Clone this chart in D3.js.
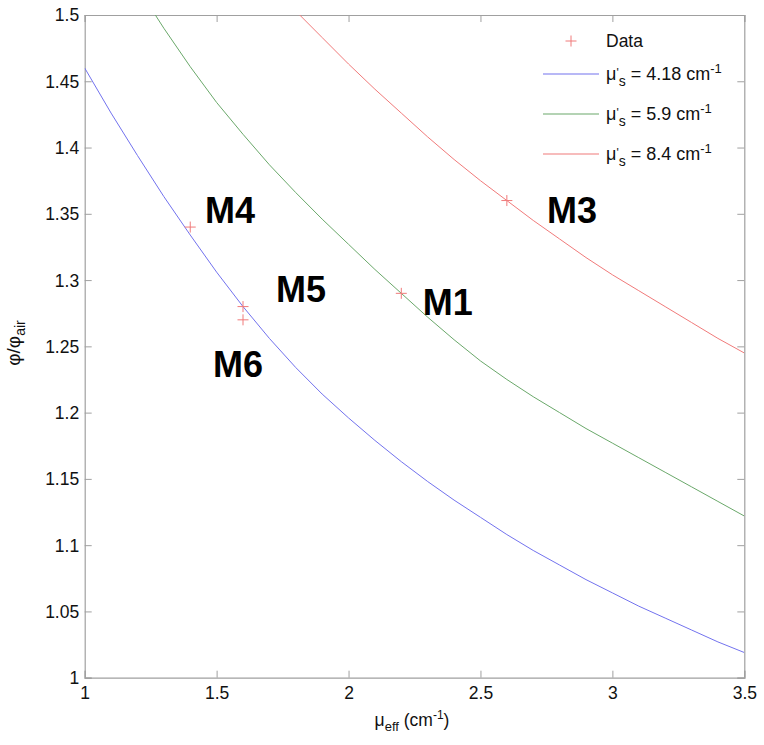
<!DOCTYPE html>
<html><head><meta charset="utf-8">
<script src="https://cdn.jsdelivr.net/npm/d3@7"></script>
<style>
body{margin:0;background:#fff;}
text{font-family:"Liberation Sans",Arial,sans-serif;}
</style></head>
<body><svg id="c" width="764" height="745"></svg>
<script>
// ---- data ----
const muEff = [1.0,1.1,1.2,1.3,1.4,1.5,1.6,1.7,1.8,1.9,2.0,2.1,2.2,2.3,2.4,2.5,2.6,2.7,2.8,2.9,3.0,3.1,3.2,3.3,3.4,3.5];
const blue418 = [1.460,1.426,1.394,1.363,1.334,1.306,1.280,1.256,1.234,1.214,1.196,1.179,1.163,1.148,1.134,1.121,1.108,1.096,1.085,1.074,1.064,1.054,1.045,1.036,1.027,1.019];
const green59  = [null,null,1.521,1.490,1.461,1.434,1.410,1.387,1.366,1.346,1.327,1.308,1.290,1.272,1.255,1.239,1.225,1.212,1.200,1.188,1.177,1.166,1.155,1.144,1.133,1.122];
const red84    = [null,null,null,null,null,null,null,1.524,1.503,1.483,1.463,1.444,1.426,1.408,1.391,1.375,1.360,1.345,1.331,1.317,1.304,1.292,1.280,1.268,1.256,1.245];
const dataX = [2.2, 2.6, 1.4, 1.6, 1.6];
const dataY = [1.29, 1.36, 1.34, 1.28, 1.27];
const sampleNames = ["M1","M3","M4","M5","M6"];
const xTicks = [1,1.5,2,2.5,3,3.5];
const yTicks = [1,1.05,1.1,1.15,1.2,1.25,1.3,1.35,1.4,1.45,1.5];
const seriesLabels = ["4.18","5.9","8.4"];

// ---- layout ----
const L=84.7, R=744.3, T=15, B=677.7;
const FS = 17.5;
const svg = d3.select("#c");
const x = d3.scaleLinear().domain([1,3.5]).range([L,R]);
const y = d3.scaleLinear().domain([1,1.5]).range([B,T]);
const cols = ["#7272ee","#6aa86a","#f07a7a"];
const markCol = "#f07a7a";
const frameCol = "#a0a0a0";

svg.append("defs").append("clipPath").attr("id","clip")
  .append("rect").attr("x",L).attr("y",T).attr("width",R-L).attr("height",B-T);

// axes (ticks inward on all sides)
const tk = 7;
const gB = svg.append("g").attr("transform",`translate(0,${B})`)
  .call(d3.axisBottom(x).tickValues(xTicks).tickSize(-tk).tickFormat(d3.format("")));
const gT = svg.append("g").attr("transform",`translate(0,${T})`)
  .call(d3.axisTop(x).tickValues(xTicks).tickSize(-tk).tickFormat(""));
const gL = svg.append("g").attr("transform",`translate(${L},0)`)
  .call(d3.axisLeft(y).tickValues(yTicks).tickSize(-tk).tickFormat(d3.format("")));
const gR = svg.append("g").attr("transform",`translate(${R},0)`)
  .call(d3.axisRight(y).tickValues(yTicks).tickSize(-tk).tickFormat(""));
[gB,gT,gL,gR].forEach(g=>{
  g.select(".domain").attr("stroke",frameCol).attr("stroke-width",1.2);
  g.selectAll(".tick line").attr("stroke",frameCol);
  g.selectAll(".tick text").attr("font-size",FS).attr("fill","#111")
    .attr("font-family","'Liberation Sans',Arial,sans-serif");
});
gB.selectAll(".tick text").attr("y",21.5).attr("dy",0);
gL.selectAll(".tick text").attr("x",-5.5).attr("dy","0.34em");

// curves
const series = [blue418, green59, red84];
const line = d3.line().defined(d=>d[1]!=null).x(d=>x(d[0])).y(d=>y(d[1]));
const plot = svg.append("g").attr("clip-path","url(#clip)");
series.forEach((s,i)=>{
  plot.append("path").datum(muEff.map((m,j)=>[m,s[j]]))
    .attr("d",line).attr("fill","none").attr("stroke",cols[i]).attr("stroke-width",1);
});

// data markers
const arm = 5.5;
function plus(g,cx,cy){
  g.append("path").attr("d",`M${cx-arm},${cy}H${cx+arm}M${cx},${cy-arm}V${cy+arm}`)
    .attr("stroke",markCol).attr("stroke-width",1).attr("fill","none");
}
dataX.forEach((d,i)=>plus(plot,x(d),y(dataY[i])));

// sample labels (data-space anchors)
const labPos = [[2.281,1.2737],[2.752,1.3433],[1.456,1.3433],[1.725,1.2837],[1.486,1.2269]];
sampleNames.forEach((n,i)=>{
  svg.append("text").attr("x",x(labPos[i][0])).attr("y",y(labPos[i][1]))
    .attr("font-size",36).attr("font-weight","bold").attr("fill","#000").text(n);
});

// legend
const lg = svg.append("g");
plus(lg,571,41);
lg.append("text").attr("x",606).attr("y",47).attr("font-size",FS).attr("fill","#111").text("Data");
const rowsY=[74,114,154];
seriesLabels.forEach((lab,i)=>{
  lg.append("line").attr("x1",543).attr("x2",599).attr("y1",rowsY[i]).attr("y2",rowsY[i])
    .attr("stroke",cols[i]).attr("stroke-width",1.2);
  const t = lg.append("text").attr("x",606).attr("y",rowsY[i]+6).attr("font-size",FS+0.5).attr("fill","#111");
  t.append("tspan").text("μ");
  t.append("tspan").attr("font-size",12).attr("dy",-3).text("'");
  t.append("tspan").attr("font-size",14).attr("dy",9).text("s");
  t.append("tspan").attr("dy",-6).attr("dx",5).text("= "+lab+" cm");
  t.append("tspan").attr("font-size",13).attr("dy",-7).text("-1");
});

// axis titles
const xt = svg.append("text").attr("x",412).attr("y",726).attr("text-anchor","middle")
  .attr("font-size",FS).attr("fill","#111");
xt.append("tspan").text("μ");
xt.append("tspan").attr("font-size",13).attr("dy",5).text("eff");
xt.append("tspan").attr("dy",-5).text(" (cm");
xt.append("tspan").attr("font-size",12).attr("dy",-7).text("-1");
xt.append("tspan").attr("dy",7).text(")");

const yt = svg.append("text").attr("transform","translate(20,343) rotate(-90)")
  .attr("text-anchor","middle").attr("font-size",19).attr("fill","#111");
yt.append("tspan").text("φ/φ");
yt.append("tspan").attr("font-size",14).attr("dy",5).text("air");
</script></body></html>
